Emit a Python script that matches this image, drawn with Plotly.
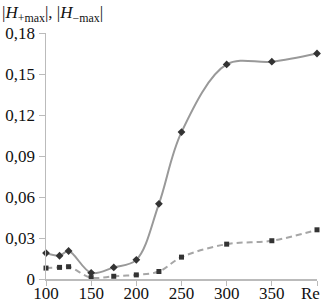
import plotly.graph_objects as go

re_vals = [100, 115, 125, 150, 175, 200, 225, 250, 300, 350, 400]
h_plus = [0.019, 0.017, 0.0205, 0.0045, 0.0085, 0.014, 0.055, 0.1075, 0.157, 0.159, 0.165]
h_minus = [0.008, 0.0085, 0.009, 0.001, 0.002, 0.003, 0.0055, 0.016, 0.0255, 0.028, 0.036]

x_tickvals = [100, 150, 200, 250, 300, 350, 400]
x_ticktext = ["100", "150", "200", "250", "300", "350", ""]
x_axis_name = "Re"
y_tickvals = [0, 0.03, 0.06, 0.09, 0.12, 0.15, 0.18]
y_ticktext = ["0", "0,03", "0,06", "0,09", "0,12", "0,15", "0,18"]

font = dict(family="Times New Roman", size=17, color="#111")

fig = go.Figure()
fig.add_trace(go.Scatter(
    x=re_vals, y=h_minus, mode="lines+markers",
    line=dict(color="#a6a6a6", width=2, dash="6px,4px", shape="spline", smoothing=1),
    marker=dict(symbol="square", size=5, color="#333"),
    cliponaxis=False, showlegend=False, hoverinfo="skip"))
fig.add_trace(go.Scatter(
    x=re_vals, y=h_plus, mode="lines+markers",
    line=dict(color="#999999", width=2, shape="spline", smoothing=1),
    marker=dict(symbol="diamond", size=6, color="#333"),
    cliponaxis=False, showlegend=False, hoverinfo="skip"))

fig.update_layout(
    template="none",
    width=323, height=304,
    margin=dict(l=46, r=6, t=33, b=25, autoexpand=False),
    paper_bgcolor="white", plot_bgcolor="white",
    font=font,
    xaxis=dict(range=[100, 400], tickvals=x_tickvals, ticktext=x_ticktext, automargin=False,
               showgrid=False, zeroline=False, showline=True, linecolor="#bbbbbb",
               linewidth=1.5, ticks="outside", ticklen=5, tickcolor="#bbbbbb",
               tickfont=font, ticklabeloverflow="allow", ticklabelstandoff=-7),
    yaxis=dict(range=[0, 0.18], tickvals=y_tickvals, ticktext=y_ticktext, automargin=False,
               showgrid=False, zeroline=False, showline=True, linecolor="#bbbbbb",
               linewidth=1.5, ticks="outside", ticklen=6, tickcolor="#bbbbbb",
               tickfont=font, ticklabeloverflow="allow"),
    annotations=[
        dict(text="|<i>H</i><sub>+max</sub>|, |<i>H</i><sub>−max</sub>|",
             xref="paper", yref="paper", x=0, y=1, xanchor="left", yanchor="bottom",
             xshift=-46, yshift=6, showarrow=False, font=font),
        dict(text=x_axis_name, xref="x", yref="paper", x=x_tickvals[-1], y=0,
             xanchor="right", yanchor="top", xshift=5, yshift=-3,
             showarrow=False, font=font),
    ],
)

fig.write_html("out.html", config={"displayModeBar": False, "staticPlot": True},
               post_script="document.body.style.margin='0';document.body.style.overflow='hidden';")
